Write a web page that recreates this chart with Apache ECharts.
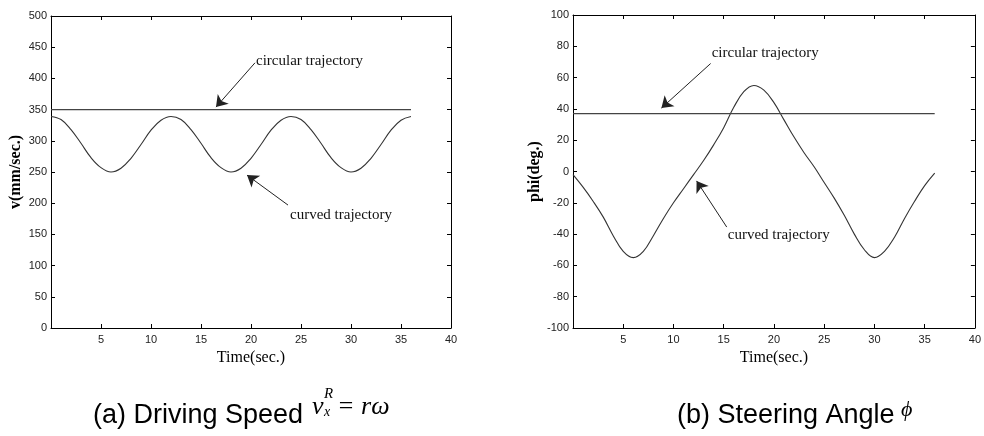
<!DOCTYPE html>
<html>
<head>
<meta charset="utf-8">
<script src="https://cdn.jsdelivr.net/npm/echarts@6/dist/echarts.min.js"></script>
<style>
html,body{margin:0;padding:0;background:#fff;}
#c{width:984px;height:436px;}
</style>
</head>
<body>
<div id="c"></div>
<script>
// ---- data ----
const time = [0,1,2,3,4,5,6,7,8,9,10,11,12,13,14,15,16,17,18,19,20,21,22,23,24,25,26,27,28,29,30,31,32,33,34,35,36];
// (a) driving speed, curved trajectory (mm/sec)
const speedCurved = [339,334,318,296,273,257,250,256,272,294,317,333,339,334,318,296,273,257,250,256,272,294,317,333,339,334,318,296,273,257,250,256,272,294,317,333,339];
// (a) driving speed, circular trajectory (mm/sec)
const speedCircularT = [0,36];
const speedCircular = [350,350];
// (b) steering angle, curved trajectory (deg)
const angleCurved = [-2,-10,-19,-29,-41,-51,-55,-51,-41,-30,-20,-11,-2,7,17,28,41,51,55,52,44,33,22,12,3,-7,-17,-28,-40,-50,-55,-51,-42,-30,-19,-9,-1];
// (b) steering angle, circular trajectory (deg)
const angleCircularT = [0,36];
const angleCircular = [37,37];
// axes
const xTicks = {min:0, max:40, interval:5};
const speedAxis = {min:0, max:500, interval:50};
const angleAxis = {min:-100, max:100, interval:20};
// annotations [text, textX, textY, arrowFromX, arrowFromY, arrowToX, arrowToY]
const annA = [
  ['circular trajectory', 20.5, 428, 20.4, 425, 16.5, 354],
  ['curved trajectory', 23.9, 181, 23.7, 197, 19.6, 245]
];
const annB = [
  ['circular trajectory', 13.8, 75.5, 13.7, 69, 8.8, 40.5],
  ['curved trajectory', 15.4, -40.5, 15.3, -35.5, 12.3, -6]
];

const pair = (xs, ys) => xs.map((x, i) => [x, ys[i]]);
const tickFont = '"Liberation Sans", Arial, sans-serif';
const serif = '"Liberation Serif", "Times New Roman", serif';

function xAx(grid, top) {
  return {
    type:'value', gridIndex:grid, position: top ? 'top' : 'bottom',
    min:xTicks.min, max:xTicks.max, interval:xTicks.interval,
    axisLine:{show:true, onZero:false, lineStyle:{color:'#000', width:1}},
    axisTick:{show:true, inside:true, length:4, lineStyle:{color:'#000'}},
    axisLabel:{show:!top, showMinLabel:false, fontSize:11, color:'#222', margin:6, fontFamily:tickFont},
    splitLine:{show:false},
    name: top ? '' : 'Time(sec.)', nameLocation:'middle', nameGap:21,
    nameTextStyle:{fontFamily:serif, fontSize:16, color:'#000'}
  };
}
function yAx(grid, right, ax, name, gap) {
  return {
    type:'value', gridIndex:grid, position: right ? 'right' : 'left',
    min:ax.min, max:ax.max, interval:ax.interval,
    axisLine:{show:true, onZero:false, lineStyle:{color:'#000', width:1}},
    axisTick:{show:true, inside:true, length:4, lineStyle:{color:'#000'}},
    axisLabel:{show:!right, fontSize:11, color:'#222', margin:4, fontFamily:tickFont},
    splitLine:{show:false},
    name: right ? '' : name, nameLocation:'middle', nameGap:gap,
    nameTextStyle:{fontFamily:serif, fontSize:16, fontWeight:'bold', color:'#000'}
  };
}
function annotSeries(xIdx, yIdx, ann) {
  return {
    type:'line', xAxisIndex:xIdx, yAxisIndex:yIdx, data:[], silent:true,
    markLine:{
      silent:true, animation:false,
      symbol:['none','arrow'], symbolSize:11,
      lineStyle:{color:'#222', width:1, type:'solid'},
      itemStyle:{color:'#111'},
      label:{show:false},
      data: ann.map(a => [{coord:[a[3], a[4]]}, {coord:[a[5], a[6]]}])
    },
    markPoint:{
      silent:true, animation:false,
      symbol:'circle', symbolSize:0,
      label:{show:true, position:'right', distance:0, color:'#111', fontFamily:serif, fontSize:15,
             formatter: p => p.name},
      data: ann.map(a => ({name:a[0], coord:[a[1], a[2]]}))
    }
  };
}
const lineStyleCurve = {color:'#333', width:1.1};
const lineStyleFlat = {color:'#444', width:1.3};

const chart = echarts.init(document.getElementById('c'), null, {renderer:'canvas'});
chart.setOption({
  animation:false,
  backgroundColor:'#fff',
  grid:[
    {left:51, top:16, width:400, height:312},
    {left:573, top:15, width:406, height:313}
  ],
  xAxis:[ xAx(0,false), xAx(0,true), xAx(1,false), xAx(1,true) ],
  yAxis:[
    yAx(0,false,speedAxis,'v(mm/sec.)',27), yAx(0,true,speedAxis,'',0),
    yAx(1,false,angleAxis,'phi(deg.)',30), yAx(1,true,angleAxis,'',0)
  ],
  series:[
    {type:'line', xAxisIndex:0, yAxisIndex:0, data:pair(time, speedCurved), smooth:0.4, symbol:'none', lineStyle:lineStyleCurve},
    {type:'line', xAxisIndex:0, yAxisIndex:0, data:pair(speedCircularT, speedCircular), symbol:'none', lineStyle:lineStyleFlat},
    {type:'line', xAxisIndex:2, yAxisIndex:2, data:pair(time, angleCurved), smooth:0.4, symbol:'none', lineStyle:lineStyleCurve},
    {type:'line', xAxisIndex:2, yAxisIndex:2, data:pair(angleCircularT, angleCircular), symbol:'none', lineStyle:lineStyleFlat},
    annotSeries(0,0,annA),
    annotSeries(2,2,annB)
  ],
  graphic:[
    {type:'text', x:93, y:416, style:{text:'(a) Driving Speed', font:'27px "Liberation Sans", Arial, sans-serif', fill:'#000', textVerticalAlign:'middle', verticalAlign:'middle'}},
    {type:'text', x:312, y:407, style:{text:'v', font:'italic 26px "Liberation Serif", serif', fill:'#000', verticalAlign:'middle', textVerticalAlign:'middle'}},
    {type:'text', x:324, y:394, style:{text:'R', font:'italic 15px "Liberation Serif", serif', fill:'#000', verticalAlign:'middle', textVerticalAlign:'middle'}},
    {type:'text', x:324, y:412, style:{text:'x', font:'italic 14px "Liberation Serif", serif', fill:'#000', verticalAlign:'middle', textVerticalAlign:'middle'}},
    {type:'text', x:337, y:407, style:{text:'= rω', font:'italic 26px "Liberation Serif", serif', fill:'#000', verticalAlign:'middle', textVerticalAlign:'middle'}},
    {type:'text', x:677, y:416, style:{text:'(b) Steering Angle', font:'27px "Liberation Sans", Arial, sans-serif', fill:'#000', verticalAlign:'middle', textVerticalAlign:'middle'}},
    {type:'text', x:901, y:410, style:{text:'ϕ', font:'italic 22px "Liberation Serif", serif', fill:'#000', verticalAlign:'middle', textVerticalAlign:'middle'}}
  ]
});
</script>
</body>
</html>
